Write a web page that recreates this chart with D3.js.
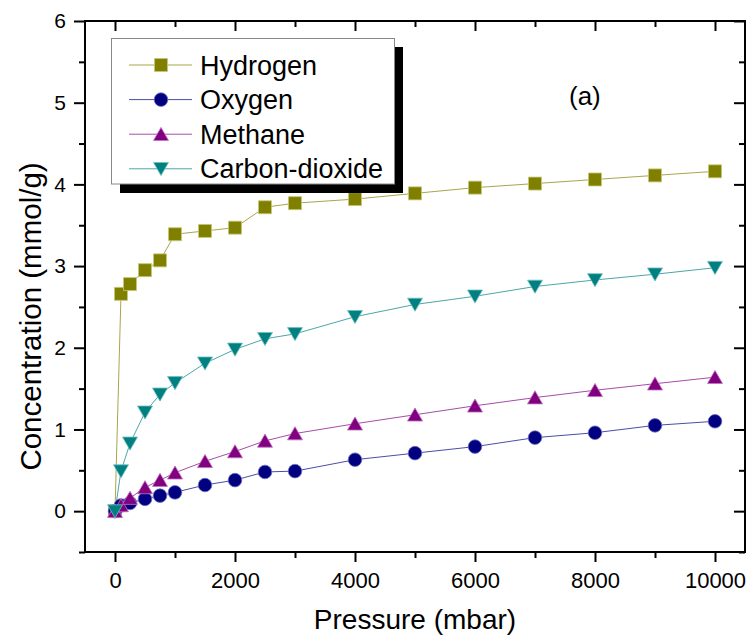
<!DOCTYPE html>
<html><head><meta charset="utf-8">
<script src="https://cdn.jsdelivr.net/npm/d3@7"></script>
<style>
html,body{margin:0;padding:0;background:#fff;}
svg{display:block;font-family:"Liberation Sans",Arial,sans-serif;}
</style></head>
<body><svg id="c" width="751" height="638"></svg>
<script>
const pressure = [0, 100, 250, 500, 750, 1000, 1500, 2000, 2500, 3000, 4000, 5000, 6000, 7000, 8000, 9000, 10000];
const hydrogen = [0, 2.66, 2.78, 2.95, 3.07, 3.39, 3.43, 3.47, 3.72, 3.77, 3.82, 3.89, 3.96, 4.01, 4.06, 4.11, 4.16];
const oxygen   = [0, 0.07, 0.10, 0.15, 0.19, 0.23, 0.32, 0.38, 0.48, 0.49, 0.63, 0.71, 0.79, 0.90, 0.96, 1.05, 1.10];
const methane  = [0, 0.07, 0.16, 0.29, 0.38, 0.47, 0.61, 0.73, 0.86, 0.95, 1.07, 1.18, 1.29, 1.39, 1.48, 1.56, 1.64];
const co2      = [0, 0.49, 0.83, 1.21, 1.43, 1.57, 1.81, 1.98, 2.11, 2.17, 2.38, 2.53, 2.63, 2.75, 2.83, 2.90, 2.98];
const seriesNames = ["Hydrogen", "Oxygen", "Methane", "Carbon-dioxide"];
const xTicks = [0, 2000, 4000, 6000, 8000, 10000];
const yTicks = [0, 1, 2, 3, 4, 5, 6];

const series = [
  {name: seriesNames[0], values: hydrogen, color: "#808000", edge: "#c8c878", shape: "square"},
  {name: seriesNames[1], values: oxygen,   color: "#000080", edge: "#7070c0", shape: "circle"},
  {name: seriesNames[2], values: methane,  color: "#800080", edge: "#c070c0", shape: "up"},
  {name: seriesNames[3], values: co2,      color: "#008080", edge: "#70c0c0", shape: "down"}
];

const svg = d3.select("#c");
const L = 85, R = 745, T = 21, B = 552;
const x = d3.scaleLinear().domain([-500, 10500]).range([L, R]);
const y = d3.scaleLinear().domain([-0.5, 6]).range([B, T]);

function markerPath(shape, cx, cy) {
  if (shape === "square") return `M${cx-6.5},${cy-6.5}h13v13h-13Z`;
  if (shape === "circle") return `M${cx-6.8},${cy}a6.8,6.8 0 1,0 13.6,0a6.8,6.8 0 1,0 -13.6,0Z`;
  if (shape === "up") return `M${cx-7.5},${cy+6.3}L${cx+7.5},${cy+6.3}L${cx},${cy-6.8}Z`;
  return `M${cx-7.5},${cy-6.3}L${cx+7.5},${cy-6.3}L${cx},${cy+6.8}Z`;
}

// axes
const axisFont = "21px";
const gB = svg.append("g").attr("transform", `translate(0,${B})`)
  .call(d3.axisBottom(x).tickValues(xTicks).tickSize(10).tickPadding(10).tickFormat(d3.format("d")));
const gBm = svg.append("g").attr("transform", `translate(0,${B})`)
  .call(d3.axisBottom(x).tickValues(d3.range(1000, 10001, 2000)).tickSize(6).tickFormat(""));
const gT = svg.append("g").attr("transform", `translate(0,${T})`)
  .call(d3.axisBottom(x).tickValues(xTicks).tickSize(10).tickFormat(""));
const gTm = svg.append("g").attr("transform", `translate(0,${T})`)
  .call(d3.axisBottom(x).tickValues(d3.range(1000, 10001, 2000)).tickSize(6).tickFormat(""));
const gL = svg.append("g").attr("transform", `translate(${L},0)`)
  .call(d3.axisLeft(y).tickValues(yTicks).tickSize(11).tickPadding(8).tickFormat(d3.format("d")));
const gLm = svg.append("g").attr("transform", `translate(${L},0)`)
  .call(d3.axisLeft(y).tickValues(d3.range(-0.5, 6, 1)).tickSize(6).tickFormat(""));
const gR = svg.append("g").attr("transform", `translate(${R},0)`)
  .call(d3.axisLeft(y).tickValues(yTicks).tickSize(11).tickFormat(""));
const gRm = svg.append("g").attr("transform", `translate(${R},0)`)
  .call(d3.axisLeft(y).tickValues(d3.range(-0.5, 6, 1)).tickSize(6).tickFormat(""));
[gB, gBm, gT, gTm, gL, gLm, gR, gRm].forEach(g => {
  g.select(".domain").remove();
  g.selectAll(".tick line").attr("stroke", "#000").attr("stroke-width", 2);
  g.selectAll("text").attr("fill", "#000").style("font-size", axisFont)
    .style("font-family", '"Liberation Sans",Arial,sans-serif');
});
gB.selectAll("text").style("font-size", "22px");

svg.append("rect").attr("x", L).attr("y", T).attr("width", R - L).attr("height", B - T)
  .attr("fill", "none").attr("stroke", "#000").attr("stroke-width", 2);

// axis titles
svg.append("text").attr("x", (L + R) / 2).attr("y", 629).attr("text-anchor", "middle")
  .style("font-size", "28px").text("Pressure (mbar)");
svg.append("text").attr("transform", `translate(41,${(T + B) / 2 + 30}) rotate(-90)`)
  .attr("text-anchor", "middle").style("font-size", "29.5px").text("Concentration (mmol/g)");

// data
const plot = svg.append("g");
series.forEach(s => {
  const line = d3.line().x((d, i) => x(pressure[i])).y(d => y(d));
  plot.append("path").datum(s.values).attr("d", line).attr("fill", "none")
    .attr("stroke", s.color).attr("stroke-width", 1).attr("stroke-opacity", 0.7);
});
series.forEach(s => {
  plot.selectAll(null).data(s.values).enter().append("path")
    .attr("d", (d, i) => markerPath(s.shape, x(pressure[i]), y(d)))
    .attr("fill", s.color).attr("stroke", s.edge).attr("stroke-width", 0.8);
});

// legend
const lg = svg.append("g");
lg.append("rect").attr("x", 120).attr("y", 47).attr("width", 283).attr("height", 146).attr("fill", "#000");
lg.append("rect").attr("x", 111.5).attr("y", 38.5).attr("width", 283).attr("height", 145.5)
  .attr("fill", "#fff").attr("stroke", "#888").attr("stroke-width", 1);
series.forEach((s, i) => {
  const ry = 65 + i * 34.6;
  lg.append("line").attr("x1", 129).attr("x2", 192).attr("y1", ry).attr("y2", ry)
    .attr("stroke", s.color).attr("stroke-width", 1).attr("stroke-opacity", 0.7);
  lg.append("path").attr("d", markerPath(s.shape, 161, ry)).attr("fill", s.color)
    .attr("stroke", s.edge).attr("stroke-width", 0.8);
  lg.append("text").attr("x", 200).attr("y", ry + 9.5).style("font-size", "27px").text(s.name);
});

svg.append("text").attr("x", 569).attr("y", 105).style("font-size", "26px").text("(a)");
</script></body></html>
